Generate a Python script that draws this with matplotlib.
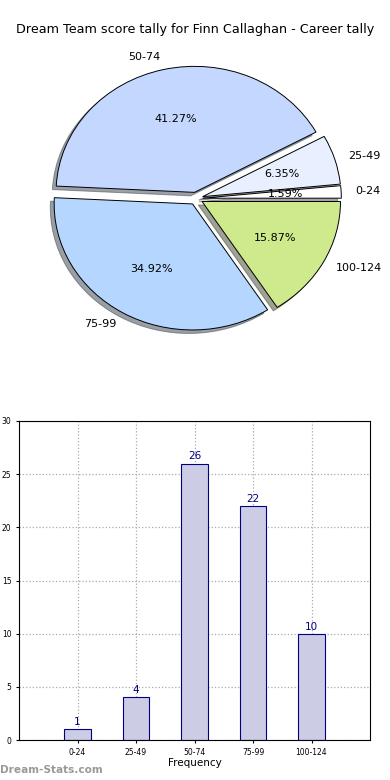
import matplotlib
matplotlib.use("Agg")
import matplotlib.pyplot as plt

# data
categories = ["0-24", "25-49", "50-74", "75-99", "100-124"]
counts = [1, 4, 26, 22, 10]
pie_colors = ["#ffffff", "#e8f0ff", "#c4d8ff", "#b4d6ff", "#ceea8c"]

fig = plt.figure(figsize=(3.9, 7.8), dpi=100)

# pie chart
ax1 = fig.add_axes([23 / 390, 1 - 356 / 780, 346 / 390, 315 / 780])
ax1.pie(counts, labels=categories, colors=pie_colors, autopct="%.2f%%",
        explode=[0.05] * 5, shadow=True, startangle=0,
        wedgeprops={"edgecolor": "black", "linewidth": 0.7},
        textprops={"fontsize": 8})
ax1.set_aspect("auto")
ax1.set_xlim(-1.25, 1.25)
ax1.set_ylim(-1.25, 1.25)
fig.text(0.5, 1 - 30 / 780, "Dream Team score tally for Finn Callaghan - Career tally",
         ha="center", va="center", fontsize=9.2)

# bar chart
ax2 = fig.add_axes([19 / 390, 1 - 740 / 780, 351 / 390, 319 / 780])
x = range(len(categories))
ax2.bar(x, counts, width=0.45, color="#cccce4", edgecolor="navy", linewidth=0.8, zorder=2)
for i, v in enumerate(counts):
    ax2.text(i, v + 0.2, str(v), ha="center", va="bottom", color="navy", fontsize=7.5)
ax2.set_xticks(list(x))
ax2.set_xticklabels(categories, fontsize=5.5)
ax2.set_xlim(-1, 5)
ax2.set_ylim(0, 30)
ax2.set_yticks(range(0, 31, 5))
ax2.tick_params(axis="y", labelsize=5.5, length=2)
ax2.tick_params(axis="x", length=2)
ax2.grid(True, linestyle=":", color="#aaaaaa", linewidth=0.9, zorder=0)
ax2.set_xlabel("Frequency", fontsize=7.5, labelpad=1)
ax2.set_ylabel("Score Interval", fontsize=7.5, labelpad=3)

fig.text(0.0, 1 - 770 / 780, "Dream-Stats.com", ha="left", va="center",
         fontsize=7.6, color="#999999", fontweight="bold")

fig.savefig("out.png", dpi=100)
